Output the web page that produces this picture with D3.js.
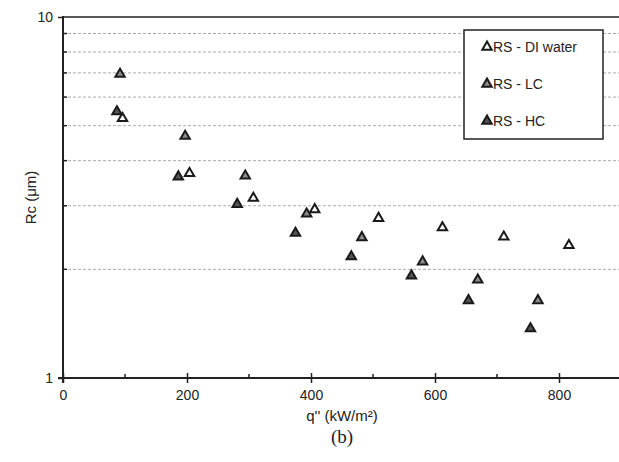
<!DOCTYPE html>
<html lang="en">

<head>
    <meta charset="UTF-8">
    <title>Rc vs q''</title>
    <style>
        html,
        body {
            margin: 0;
            padding: 0;
            background: #fff;
        }

        svg {
            display: block;
        }

        text {
            font-family: "Liberation Sans", Arial, sans-serif;
            fill: #222;
        }
    </style>
</head>

<body>
    <div id="wrapper"></div>

    <script src="https://d3js.org/d3.v7.min.js"></script>
    <script>
        // 資料 (讀圖估計)
        const seriesNames = ['RS - DI water', 'RS - LC', 'RS - HC'];
        const seriesFills = ['#ffffff', '#8c8c8c', '#555555'];

        const qDI = [96, 204, 307, 406, 509, 612, 711, 816];
        const rcDI = [5.24, 3.69, 3.15, 2.93, 2.77, 2.61, 2.46, 2.33];

        const qLC = [92, 197, 294, 393, 482, 580, 669, 766];
        const rcLC = [6.95, 4.68, 3.63, 2.85, 2.45, 2.10, 1.87, 1.64];

        const qHC = [87, 186, 281, 375, 465, 562, 654, 754];
        const rcHC = [5.47, 3.61, 3.03, 2.52, 2.17, 1.92, 1.64, 1.37];

        const xMajorTicks = [0, 200, 400, 600, 800];
        const xMinorTicks = [100, 300, 500, 700];
        const yGridTicks = [2, 3, 4, 5, 6, 7, 8, 9];

        const series = [
            { name: seriesNames[0], fill: seriesFills[0], q: qDI, rc: rcDI },
            { name: seriesNames[1], fill: seriesFills[1], q: qLC, rc: rcLC },
            { name: seriesNames[2], fill: seriesFills[2], q: qHC, rc: rcHC }
        ];

        const width = 619,
            height = 462,
            margin = { left: 63, top: 17 },
            chartWidth = 558,
            chartHeight = 361;

        const svg = d3.select('#wrapper').append('svg')
            .attr('width', width)
            .attr('height', height);

        const xScale = d3.scaleLinear().domain([0, 900]).range([margin.left, margin.left + chartWidth]);
        const yScale = d3.scaleLog().domain([1, 10]).range([margin.top + chartHeight, margin.top]);

        // 虛線格線
        svg.append('g')
            .selectAll('line')
            .data(yGridTicks)
            .join('line')
            .attr('x1', xScale(0))
            .attr('x2', width)
            .attr('y1', d => yScale(d))
            .attr('y2', d => yScale(d))
            .attr('stroke', '#aaaaaa')
            .attr('stroke-width', 1)
            .attr('stroke-dasharray', '3,2');

        // 上方邊框
        svg.append('line')
            .attr('x1', xScale(0))
            .attr('x2', width)
            .attr('y1', yScale(10))
            .attr('y2', yScale(10))
            .attr('stroke', '#222')
            .attr('stroke-width', 1.5);

        // X軸
        const xAxis = d3.axisBottom(xScale)
            .tickValues(xMajorTicks)
            .tickSizeInner(5)
            .tickSizeOuter(0)
            .tickPadding(7);

        const xAxisLine = svg.append('g')
            .attr('transform', `translate(0,${yScale(1)})`)
            .call(xAxis);
        xAxisLine.select('.domain').remove();
        xAxisLine.selectAll('.tick line').attr('y1', -5).attr('stroke', '#222').attr('stroke-width', 1.5);
        xAxisLine.selectAll('.tick text').style('font-size', '14px').attr('fill', '#222');

        svg.append('g')
            .selectAll('line')
            .data(xMinorTicks)
            .join('line')
            .attr('x1', d => xScale(d))
            .attr('x2', d => xScale(d))
            .attr('y1', yScale(1))
            .attr('y2', yScale(1) - 4)
            .attr('stroke', '#222')
            .attr('stroke-width', 1.5);

        svg.append('line')
            .attr('x1', xScale(0) - 5)
            .attr('x2', width)
            .attr('y1', yScale(1))
            .attr('y2', yScale(1))
            .attr('stroke', '#222')
            .attr('stroke-width', 2);

        // Y軸
        const yAxis = d3.axisLeft(yScale)
            .tickValues([1, 10])
            .tickFormat(d3.format('d'))
            .tickSizeInner(5)
            .tickSizeOuter(0)
            .tickPadding(5);

        const yAxisLine = svg.append('g')
            .attr('transform', `translate(${xScale(0)},0)`)
            .call(yAxis);
        yAxisLine.select('.domain').remove();
        yAxisLine.selectAll('.tick line').attr('stroke', '#222').attr('stroke-width', 1.5);
        yAxisLine.selectAll('.tick text').style('font-size', '14px').attr('fill', '#222');

        svg.append('g')
            .selectAll('line')
            .data(yGridTicks)
            .join('line')
            .attr('x1', xScale(0))
            .attr('x2', xScale(0) + 4)
            .attr('y1', d => yScale(d))
            .attr('y2', d => yScale(d))
            .attr('stroke', '#222')
            .attr('stroke-width', 1.5);

        svg.append('line')
            .attr('x1', xScale(0))
            .attr('x2', xScale(0))
            .attr('y1', yScale(10) - 1)
            .attr('y2', yScale(1) + 5)
            .attr('stroke', '#222')
            .attr('stroke-width', 2);

        // 軸標籤
        svg.append('text')
            .attr('x', xScale(450))
            .attr('y', 421)
            .attr('text-anchor', 'middle')
            .style('font-size', '15px')
            .text("q'' (kW/m²)");

        svg.append('text')
            .attr('transform', `translate(36,${yScale(Math.sqrt(10))}) rotate(-90)`)
            .attr('text-anchor', 'middle')
            .style('font-size', '15px')
            .text('Rc (μm)');

        svg.append('text')
            .attr('x', xScale(450))
            .attr('y', 443)
            .attr('text-anchor', 'middle')
            .style('font-family', '"Liberation Serif", "Times New Roman", serif')
            .style('font-size', '19px')
            .text('(b)');

        // 三角形資料點
        const tri = d3.symbol().type(d3.symbolTriangle).size(38);

        series.forEach(s => {
            svg.append('g')
                .selectAll('path')
                .data(s.q.map((q, i) => ({ q: q, rc: s.rc[i] })))
                .join('path')
                .attr('d', tri)
                .attr('transform', d => `translate(${xScale(d.q)},${yScale(d.rc)})`)
                .attr('fill', s.fill)
                .attr('stroke', '#1a1a1a')
                .attr('stroke-width', 2)
                .attr('stroke-linejoin', 'miter');
        });

        // 圖例
        const legend = svg.append('g');
        legend.append('rect')
            .attr('x', 464)
            .attr('y', 30)
            .attr('width', 139)
            .attr('height', 109)
            .attr('fill', '#fff')
            .attr('stroke', '#222')
            .attr('stroke-width', 1.5);

        const legendItem = legend.selectAll('.item')
            .data(series)
            .join('g')
            .attr('class', 'item')
            .attr('transform', (d, i) => `translate(487,${47 + i * 37})`);

        legendItem.append('path')
            .attr('d', tri)
            .attr('fill', d => d.fill)
            .attr('stroke', '#1a1a1a')
            .attr('stroke-width', 2);

        legendItem.append('text')
            .attr('x', 6)
            .attr('y', 5)
            .style('font-size', '14px')
            .text(d => d.name);
    </script>
</body>

</html>
